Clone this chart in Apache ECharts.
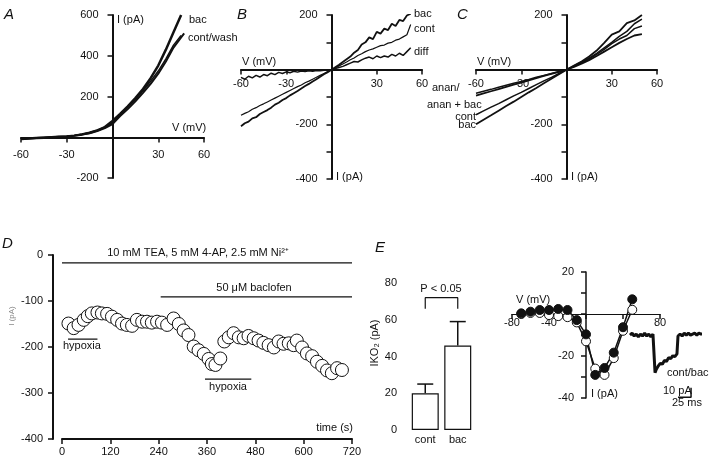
<!DOCTYPE html>
<html>
<head>
<meta charset="utf-8">
<script src="https://cdn.jsdelivr.net/npm/echarts@6/dist/echarts.min.js"></script>
<style>
  html, body { margin: 0; background: #fff; }
  #chart { width: 720px; height: 468px; }
</style>
</head>
<body>
<div id="chart"></div>
<script>
// ---- panel A : I-V, bac vs cont/wash
const aVolt = [-60, -55, -50, -45, -40, -35, -30, -25, -20, -15, -10, -5, 0, 5, 10, 15, 20, 25, 30, 35, 40, 45, 47];
const aBac  = [-8, -6, -4, -2, 0, 2, 4, 8, 14, 22, 34, 50, 80, 115, 152, 192, 237, 290, 352, 430, 515, 600, null];
const aCont = [-8, -6, -4, -2, 0, 2, 4, 8, 13, 20, 30, 45, 65, 104, 138, 176, 218, 262, 312, 372, 440, 490, 510];
const aWash = [-6, -5, -3, -1, 1, 3, 5, 9, 15, 23, 34, 50, 72, 112, 148, 185, 228, 275, 325, 385, 452, 500, null];

// ---- panel B : bac, cont, diff (2.5 mV steps)
const bVolt = [-60, -57.5, -55, -52.5, -50, -47.5, -45, -42.5, -40, -37.5, -35, -32.5, -30, -27.5, -25, -22.5,
  -20, -17.5, -15, -12.5, -10, -7.5, -5, -2.5, 0, 2.5, 5, 7.5, 10, 12.5, 15, 17.5, 20, 22.5, 25, 27.5,
  30, 32.5, 35, 37.5, 40, 42.5, 45, 47.5, 50, 52.5];
const bBac = [-207, -196, -190, -178, -174, -162, -155, -148, -139, -128, -121, -111, -104, -94, -86, -78,
  -69, -60, -52, -43, -35, -26, -17, -9, 0, 9, 18, 28, 38, 48, 62, 72, 92, 100, 118, 112,
  138, 132, 150, 145, 168, 160, 182, 178, 198, 205];
const bCont = [-167, -160, -154, -145, -139, -131, -125, -118, -111, -104, -97, -90, -83, -76, -69, -62,
  -56, -48, -42, -35, -28, -21, -14, -7, 0, 7, 14, 21, 28, 36, 43, 52, 58, 66, 72, 76,
  82, 88, 90, 97, 100, 108, 112, 120, 128, 165];
const bDiff = [-28, -35, -24, -30, -21, -27, -18, -22, -13, -18, -10, -14, -8, -11, -6, -9,
  -5, -7, -4, -6, -3, -4, -2, -2, 0, 4, 8, 12, 18, 24, 30, 28, 36, 42, 46, 40,
  50, 44, 50, 46, 56, 50, 60, 52, 66, 80];

// ---- panel C : anandamide
const cVolt = [-60, -55, -50, -45, -40, -35, -30, -25, -20, -15, -10, -5, 0, 5, 10, 15, 20, 25, 30, 35, 40, 45, 50];
const cBac     = [-200, -183, -167, -150, -133, -117, -100, -83, -67, -50, -33, -17, 0, 15, 30, 48, 70, 98, 128, 140, 170, 180, 200];
const cCont    = [-165, -151, -137, -124, -110, -96, -83, -69, -55, -41, -28, -14, 0, 14, 28, 42, 60, 80, 100, 122, 140, 168, 185];
const cAnan    = [-95, -87, -79, -71, -63, -55, -47, -39, -31, -23, -15, -8, 0, 10, 22, 35, 50, 66, 82, 98, 112, 125, 130];
const cAnanBac = [-86, -79, -72, -64, -57, -50, -43, -36, -28, -21, -14, -7, 0, 12, 25, 40, 56, 74, 95, 112, 125, 150, 160];

// ---- panel D : time course
const dTime = [16, 29, 41, 54, 64, 74, 88, 99, 112, 124, 137, 149, 161, 174, 186, 199, 211, 223, 236, 248,
  261, 277, 290, 302, 314, 327, 339, 352, 364, 372, 381, 393, 403, 414, 426, 439, 451, 463, 476, 488,
  500, 513, 526, 538, 550, 563, 575, 583, 596, 608, 621, 633, 646, 658, 670, 683, 695];
const dCurr = [-149, -159, -152, -141, -133, -127, -125, -127, -128, -134, -141, -149, -152, -154, -141, -145, -145, -147, -145, -147,
  -152, -138, -150, -164, -174, -199, -207, -215, -226, -237, -239, -225, -188, -179, -170, -179, -181, -176, -181, -186,
  -191, -196, -201, -188, -193, -192, -196, -186, -201, -214, -220, -232, -241, -251, -257, -246, -250];
// application bars: start (s), end (s), level (pA)
const dBarStart = [0, 245, 15, 355];
const dBarEnd   = [720, 720, 88, 470];
const dBarLevel = [-17, -91, -183, -270];

// ---- panel E : bars
const eCats = ["cont", "bac"];
const eMean = [20, 46];
const eSem  = [5, 13];
const eBracket = [66, 72];

// ---- panel E : I-V (filled = bac, open = cont)
const ivVolt = [-70, -60, -50, -40, -30, -20, -10, 0, 10, 20, 30, 40, 50];
const ivBac  = [0.3, 1.1, 1.9, 1.9, 2.4, 1.9, -2.9, -9.7, -29, -25.7, -18.4, -6.3, 7];
const ivCont = [0, 0.5, 0.5, -0.5, -1, -1.5, -4, -13, -26, -29, -21, -8, 2];
const ivVoltLabels = [-80, -40, 80];

// ---- panel E : current trace (ms, pA) and scale bar
const trTime = [0, 4, 8, 12, 16, 20, 24, 28, 32, 36, 40, 44, 47, 48, 50, 54, 58, 62, 66, 70, 74, 78, 82, 86, 90, 91, 92,
  96, 100, 104, 108, 112, 116, 120, 124, 128, 132, 136, 138];
const trCurr = [0, 2, -1, 1, -2, 1, -1, 2, -1, 1, -2, 1, 0, -40, -37, -33, -30, -31, -27, -28, -24, -25, -22, -23, -20, -20, -1,
  1, -1, 2, 0, 2, 0, 1, 2, 0, 2, 1, 1];
const scaleMs = 25;
const scalePA = 10;

const ink = "#111";
const font = "Liberation Sans";

function pairs(xs, ys) {
  return xs.map((x, i) => [x, ys[i]]);
}

// offset moves the axis from the grid edge to where the other axis is zero
function axis(gridIndex, min, max, interval, fmt, margin, offset, width) {
  return {
    type: "value",
    gridIndex: gridIndex,
    min: min,
    max: max,
    interval: interval,
    offset: offset || 0,
    splitLine: { show: false },
    axisLine: { onZero: false, lineStyle: { color: ink, width: width || 2 } },
    axisTick: { length: 5, lineStyle: { color: ink, width: 1.5 } },
    axisLabel: { color: ink, fontSize: 11, fontFamily: font, margin: margin, formatter: fmt },
  };
}

function trace(idx, data, width) {
  return {
    type: "line",
    xAxisIndex: idx,
    yAxisIndex: idx,
    data: data,
    showSymbol: false,
    symbol: "none",
    lineStyle: { color: ink, width: width || 1.5 },
    silent: true,
  };
}

function txt(text, x, y, align, size, more, italic, color) {
  return Object.assign({
    type: "text",
    x: x,
    y: y,
    style: {
      text: text,
      fill: color || ink,
      font: (italic ? "italic " : "") + (size || 11) + "px '" + font + "'",
      textAlign: align || "left",
      textVerticalAlign: "middle",
    },
  }, more || {});
}

const asIs = (v) => v;
const hideZero = (v) => (v === 0 ? "" : v);
const every200 = (v) => (v % 200 === 0 && v !== 0 ? v : "");
const every20 = (v) => (v % 20 === 0 && v !== 0 ? v : "");
const ivLabel = (v) => (ivVoltLabels.includes(v) ? v : "");

const chartDom = document.getElementById("chart");
const myChart = echarts.init(chartDom);

const option = {
  animation: false,
  textStyle: { fontFamily: font },
  grid: [
    { left: 21, right: 516, top: 15, bottom: 290 },   // A
    { left: 241, right: 298, top: 15, bottom: 289 },  // B
    { left: 476, right: 63, top: 15, bottom: 289 },   // C
    { left: 62, right: 368, top: 255, bottom: 29 },   // D
    { left: 409, right: 246, top: 283, bottom: 38 },  // E bars
    { left: 512, right: 60, top: 272, bottom: 70 },   // E I-V
    { left: 630, right: 18, top: 320, bottom: 68 },   // E trace
  ],
  xAxis: [
    axis(0, -60, 60, 30, hideZero, 12, -40.5),
    axis(1, -60, 60, 30, hideZero, 9, -109.5),
    axis(2, -60, 60, 30, hideZero, 9, -109.5),
    axis(3, 0, 720, 120, asIs, 7, 0),
    {
      type: "category",
      gridIndex: 4,
      data: eCats,
      axisLine: { show: false },
      axisTick: { show: false },
      axisLabel: { color: ink, fontSize: 11, fontFamily: font, margin: 4 },
    },
    axis(5, -80, 80, 40, ivLabel, 3, -84, 1),
    { type: "value", gridIndex: 6, min: 0, max: 138, show: false },
  ],
  yAxis: [
    axis(0, -200, 600, 200, hideZero, 14, -91.5),
    axis(1, -400, 200, 100, every200, 14, -90.5),
    axis(2, -400, 200, 100, every200, 14, -90.5),
    axis(3, -400, 0, 100, asIs, 10, 9),
    axis(4, 0, 80, 20, asIs, 12, 0),
    axis(5, -40, 20, 10, every20, 12, -74, 1.5),
    { type: "value", gridIndex: 6, min: -69, max: 16, show: false },
  ],
  series: [
    // A
    trace(0, pairs(aVolt, aWash), 1.5),
    trace(0, pairs(aVolt, aCont), 2),
    trace(0, pairs(aVolt, aBac), 2.5),
    // B
    trace(1, pairs(bVolt, bBac), 1.8),
    trace(1, pairs(bVolt, bCont), 1.2),
    trace(1, pairs(bVolt, bDiff), 1.5),
    // C
    trace(2, pairs(cVolt, cAnan), 1.8),
    trace(2, pairs(cVolt, cAnanBac), 1.5),
    trace(2, pairs(cVolt, cCont), 1.5),
    trace(2, pairs(cVolt, cBac), 1.8),
    // D application bars
    ...dBarStart.map((s, i) =>
      trace(3, [[s, dBarLevel[i]], [dBarEnd[i], dBarLevel[i]]], 1.2)
    ),
    {
      type: "scatter",
      xAxisIndex: 3,
      yAxisIndex: 3,
      data: pairs(dTime, dCurr),
      symbol: "circle",
      symbolSize: 13,
      itemStyle: { color: "#fff", borderColor: ink, borderWidth: 1, opacity: 1 },
    },
    // E bars
    {
      type: "bar",
      xAxisIndex: 4,
      yAxisIndex: 4,
      data: eMean,
      barWidth: 27,
      itemStyle: { color: "#fff", borderColor: ink, borderWidth: 1.2 },
    },
    {
      type: "custom",
      xAxisIndex: 4,
      yAxisIndex: 4,
      data: eMean.map((m, i) => [i, m, m + eSem[i]]),
      renderItem: function (params, api) {
        const base = api.coord([api.value(0), api.value(1)]);
        const top = api.coord([api.value(0), api.value(2)]);
        const st = { stroke: ink, lineWidth: 1.5 };
        return {
          type: "group",
          children: [
            { type: "line", shape: { x1: base[0], y1: base[1], x2: top[0], y2: top[1] }, style: st },
            { type: "line", shape: { x1: top[0] - 8, y1: top[1], x2: top[0] + 8, y2: top[1] }, style: st },
          ],
        };
      },
    },
    trace(4, [[0, eBracket[0]], [0, eBracket[1]], [1, eBracket[1]], [1, eBracket[0]]], 1.2),
    // E I-V
    {
      type: "line",
      xAxisIndex: 5,
      yAxisIndex: 5,
      data: pairs(ivVolt, ivCont),
      symbol: "circle",
      symbolSize: 9,
      lineStyle: { color: ink, width: 1.5 },
      itemStyle: { color: "#fff", borderColor: ink, borderWidth: 1 },
    },
    {
      type: "line",
      xAxisIndex: 5,
      yAxisIndex: 5,
      data: pairs(ivVolt, ivBac),
      symbol: "circle",
      symbolSize: 9,
      lineStyle: { color: ink, width: 1.5 },
      itemStyle: { color: ink, borderColor: ink, borderWidth: 1 },
    },
    // E trace + scale bar
    trace(6, pairs(trTime, trCurr), 3),
    trace(6, [[117 - scaleMs, -66], [117, -66], [117, -66 + scalePA]], 1.5),
  ],
  graphic: [
    // panel letters
    txt("A", 4, 15, "left", 15, null, true),
    txt("B", 237, 15, "left", 15, null, true),
    txt("C", 457, 15, "left", 15, null, true),
    txt("D", 2, 244, "left", 15, null, true),
    txt("E", 375, 248, "left", 15, null, true),
    // A
    txt("I (pA)", 117, 20),
    txt("V (mV)", 172, 128),
    txt("bac", 189, 20),
    txt("cont/wash", 188, 38),
    // B
    txt("V (mV)", 242, 62),
    txt("I (pA)", 336, 177),
    txt("bac", 414, 14),
    txt("cont", 414, 29),
    txt("diff", 414, 52),
    // C
    txt("V (mV)", 477, 62),
    txt("I (pA)", 571, 177),
    txt("anan/", 432, 88),
    txt("anan + bac", 427, 105),
    txt("cont", 476, 117, "right"),
    txt("bac", 476, 125, "right"),
    // D
    txt("10 mM TEA, 5 mM 4-AP, 2.5 mM Ni²⁺", 198, 253, "center"),
    txt("50 μM baclofen", 254, 288, "center"),
    txt("hypoxia", 63, 346),
    txt("hypoxia", 228, 387, "center"),
    txt("time (s)", 353, 428, "right"),
    txt("I (pA)", 12, 316, "center", 8, { rotation: Math.PI / 2 }, false, "#888"),
    // E
    txt("P < 0.05", 441, 289, "center"),
    txt("IKO₂ (pA)", 375, 343, "center", 11, { rotation: Math.PI / 2 }),
    txt("V (mV)", 516, 300),
    txt("I (pA)", 591, 394),
    txt("cont/bac", 667, 373),
    txt("10 pA", 663, 391),
    txt("25 ms", 672, 403),
  ],
};

myChart.setOption(option);
window.addEventListener("resize", () => {
  myChart.resize();
});
</script>
</body>
</html>
